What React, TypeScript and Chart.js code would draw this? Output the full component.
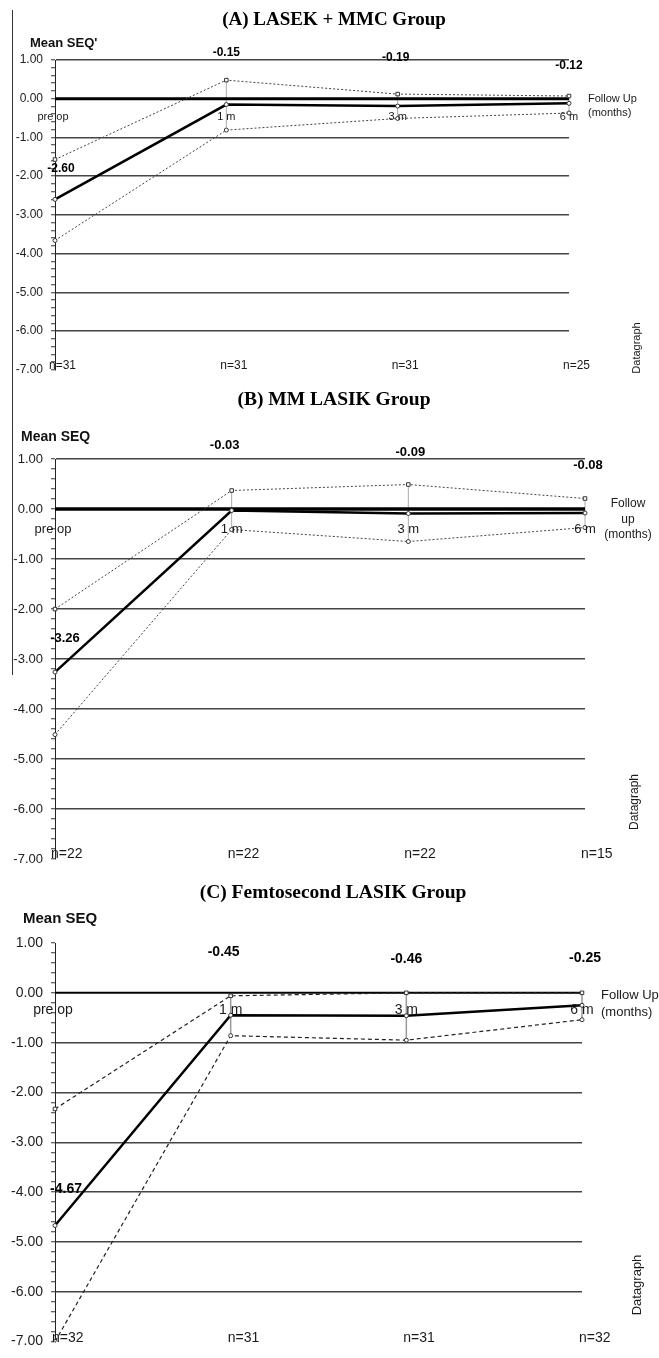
import React, { useEffect, useRef } from 'react';
import { Chart, registerables } from 'chart.js';

Chart.register(...registerables);

// ---------- data ----------
const categories = ['pre op', '1 m', '3 m', '6 m'];
const zeroLine = [0, 0, 0, 0];

const meanA = [-2.6, -0.15, -0.19, -0.12];
const upperA = [-1.57, 0.48, 0.12, 0.07];
const lowerA = [-3.66, -0.81, -0.51, -0.37];
const nA = ['n=31', 'n=31', 'n=31', 'n=25'];

const meanB = [-3.26, -0.03, -0.09, -0.08];
const upperB = [-2.0, 0.37, 0.49, 0.21];
const lowerB = [-4.51, -0.41, -0.65, -0.37];
const nB = ['n=22', 'n=22', 'n=22', 'n=15'];

const meanC = [-4.67, -0.45, -0.46, -0.25];
const upperC = [-2.33, -0.06, 0.0, 0.0];
const lowerC = [-7.0, -0.86, -0.95, -0.54];
const nC = ['n=32', 'n=31', 'n=31', 'n=32'];

const yMin = -7;
const yMax = 1;

type Panel = {
  top: number; height: number; areaTop: number; areaBottom: number; right: number;
  title: string; titleX: number; titleY: number; titleSize: number;
  axisTitle: string; axisTitleX: number; axisTitleY: number; axisTitleSize: number;
  mean: number[]; upper: number[]; lower: number[]; n: string[];
  tickSize: number; catSize: number; catDy: number;
  labelSize: number; labelDx: number[]; labelDy: number[];
  nSize: number; nY: number; nDx: number;
  follow: string[]; followX: number; followY: number[]; followAlign: CanvasTextAlign; followSize: number;
  dgX: number; dgY: number; dgSize: number;
  zeroWidth: number; meanWidth: number; dash: number[]; bandColor: string; bandWidth: number;
  dropColor: string; dropWidth: number; topGrid: boolean;
};

const SANS = '"Liberation Sans", Arial, sans-serif';
const SERIF = '"Liberation Serif", "Times New Roman", serif';

const panels: Panel[] = [
  {
    top: 0, height: 385, areaTop: 60, areaBottom: 377, right: 569,
    title: '(A) LASEK + MMC Group', titleX: 334, titleY: 20, titleSize: 19,
    axisTitle: "Mean SEQ'", axisTitleX: 30, axisTitleY: 43, axisTitleSize: 13,
    mean: meanA, upper: upperA, lower: lowerA, n: nA,
    tickSize: 12, catSize: 11, catDy: 18,
    labelSize: 12, labelDx: [6, 0, -2, 0], labelDy: [-31, -52, -48, -38],
    nSize: 12, nY: 366, nDx: -6,
    follow: ['Follow Up', '(months)'], followX: 588, followY: [99, 113], followAlign: 'left', followSize: 11,
    dgX: 637, dgY: 348, dgSize: 11,
    zeroWidth: 3, meanWidth: 2.5, dash: [2, 2], bandColor: '#444', bandWidth: 1,
    dropColor: '#aaa', dropWidth: 1, topGrid: true,
  },
  {
    top: 385, height: 490, areaTop: 459, areaBottom: 867, right: 585,
    title: '(B) MM LASIK Group', titleX: 334, titleY: 400, titleSize: 19.5,
    axisTitle: 'Mean SEQ', axisTitleX: 21, axisTitleY: 437, axisTitleSize: 14,
    mean: meanB, upper: upperB, lower: lowerB, n: nB,
    tickSize: 13, catSize: 13, catDy: 20,
    labelSize: 13, labelDx: [10, -7, 2, 3], labelDy: [-34, -65, -61, -48],
    nSize: 14, nY: 854, nDx: -4,
    follow: ['Follow', 'up', '(months)'], followX: 628, followY: [504, 520, 535], followAlign: 'center', followSize: 12,
    dgX: 635, dgY: 802, dgSize: 12,
    zeroWidth: 3.5, meanWidth: 2.5, dash: [2, 2], bandColor: '#444', bandWidth: 1,
    dropColor: '#aaa', dropWidth: 1, topGrid: true,
  },
  {
    top: 875, height: 483, areaTop: 943, areaBottom: 1352, right: 582,
    title: '(C) Femtosecond LASIK Group', titleX: 333, titleY: 893, titleSize: 19.5,
    axisTitle: 'Mean SEQ', axisTitleX: 23, axisTitleY: 919, axisTitleSize: 15,
    mean: meanC, upper: upperC, lower: lowerC, n: nC,
    tickSize: 14, catSize: 14, catDy: 17,
    labelSize: 14, labelDx: [11, -7, 0, 3], labelDy: [-36, -63, -57, -47],
    nSize: 14, nY: 1338, nDx: -3,
    follow: ['Follow Up', '(months)'], followX: 601, followY: [995, 1012], followAlign: 'left', followSize: 13,
    dgX: 637, dgY: 1285, dgSize: 13,
    zeroWidth: 2, meanWidth: 2.5, dash: [4, 3], bandColor: '#222', bandWidth: 1.2,
    dropColor: '#999', dropWidth: 1.5, topGrid: false,
  },
];

const isInt = (v: number) => Math.abs(v - Math.round(v)) < 1e-6;

function makeDecor(p: Panel) {
  return {
    id: 'decor',
    beforeDatasetsDraw(chart: any) {
      const ctx = chart.ctx as CanvasRenderingContext2D;
      const x = chart.scales.x;
      const y = chart.scales.y;
      ctx.save();
      ctx.strokeStyle = p.dropColor;
      ctx.lineWidth = p.dropWidth;
      for (let i = 1; i < categories.length; i++) {
        const px = x.getPixelForValue(i);
        ctx.beginPath();
        ctx.moveTo(px, y.getPixelForValue(p.upper[i]));
        ctx.lineTo(px, y.getPixelForValue(p.lower[i]));
        ctx.stroke();
      }
      ctx.restore();
    },
    afterDraw(chart: any) {
      const ctx = chart.ctx as CanvasRenderingContext2D;
      const x = chart.scales.x;
      const y = chart.scales.y;
      const off = p.top;
      ctx.save();
      ctx.textBaseline = 'middle';
      // title
      ctx.fillStyle = '#000';
      ctx.font = `bold ${p.titleSize}px ${SERIF}`;
      ctx.textAlign = 'center';
      ctx.fillText(p.title, p.titleX, p.titleY - off);
      // axis title
      ctx.fillStyle = '#111';
      ctx.font = `bold ${p.axisTitleSize}px ${SANS}`;
      ctx.textAlign = 'left';
      ctx.fillText(p.axisTitle, p.axisTitleX, p.axisTitleY - off);
      // category labels below zero line
      const zeroY = y.getPixelForValue(0);
      ctx.fillStyle = '#1a1a1a';
      ctx.font = `${p.catSize}px ${SANS}`;
      ctx.textAlign = 'center';
      categories.forEach((c, i) => {
        const px = x.getPixelForValue(i) + (i === 0 ? -2 : 0);
        ctx.fillText(c, px, zeroY + p.catDy);
      });
      // mean value labels
      ctx.fillStyle = '#000';
      ctx.font = `bold ${p.labelSize}px ${SANS}`;
      p.mean.forEach((v, i) => {
        const px = x.getPixelForValue(i) + p.labelDx[i];
        const py = y.getPixelForValue(v) + p.labelDy[i];
        ctx.fillText(v.toFixed(2), px, py);
      });
      // n labels
      ctx.fillStyle = '#1a1a1a';
      ctx.font = `${p.nSize}px ${SANS}`;
      ctx.textAlign = 'left';
      p.n.forEach((t, i) => {
        const px = x.getPixelForValue(i) + p.nDx;
        ctx.fillText(t, px, p.nY - off);
      });
      // follow up label
      ctx.font = `${p.followSize}px ${SANS}`;
      ctx.textAlign = p.followAlign;
      p.follow.forEach((t, i) => ctx.fillText(t, p.followX, p.followY[i] - off));
      // Datagraph
      ctx.translate(p.dgX, p.dgY - off);
      ctx.rotate(-Math.PI / 2);
      ctx.textAlign = 'center';
      ctx.font = `${p.dgSize}px ${SANS}`;
      ctx.fillText('Datagraph', 0, 0);
      ctx.restore();
    },
  };
}

function PanelChart({ p }: { p: Panel }) {
  const ref = useRef<HTMLCanvasElement | null>(null);
  useEffect(() => {
    if (!ref.current) return;
    const chart = new Chart(ref.current, {
      type: 'line',
      data: {
        labels: categories,
        datasets: [
          {
            label: 'Mean', data: p.mean, borderColor: '#000', borderWidth: p.meanWidth,
            pointRadius: 2, pointBackgroundColor: '#fff', pointBorderColor: '#333', pointBorderWidth: 1, tension: 0,
          },
          {
            label: 'Upper', data: p.upper, borderColor: p.bandColor, borderWidth: p.bandWidth, borderDash: p.dash,
            pointStyle: 'rect', pointRadius: 2.5, pointBackgroundColor: '#fff', pointBorderColor: '#333', pointBorderWidth: 1,
          },
          {
            label: 'Lower', data: p.lower, borderColor: p.bandColor, borderWidth: p.bandWidth, borderDash: p.dash,
            pointStyle: 'circle', pointRadius: 2, pointBackgroundColor: '#fff', pointBorderColor: '#333', pointBorderWidth: 1,
          },
          {
            label: 'Zero', data: zeroLine, borderColor: '#000', borderWidth: p.zeroWidth, pointRadius: 0,
          },
        ],
      },
      options: {
        animation: false,
        responsive: false,
        maintainAspectRatio: false,
        events: [],
        layout: {
          padding: { left: 0, right: 659 - p.right, top: p.areaTop - p.top, bottom: p.top + p.height - p.areaBottom },
        },
        plugins: { legend: { display: false }, tooltip: { enabled: false }, title: { display: false } },
        scales: {
          x: { display: false },
          y: {
            min: yMin,
            max: yMax,
            afterFit: (s: any) => { s.width = 55; },
            border: { display: true, color: '#222', width: 1 },
            grid: {
              color: (c: any) => {
                const v = c.tick ? c.tick.value : 0;
                if (!isInt(v)) return 'rgba(0,0,0,0)';
                const r = Math.round(v);
                if (r === yMin || r === 0) return 'rgba(0,0,0,0)';
                if (r === yMax && !p.topGrid) return 'rgba(0,0,0,0)';
                return '#444';
              },
              lineWidth: 1.5,
              drawTicks: true,
              tickLength: 4,
              tickColor: '#333',
              tickWidth: 1,
            },
            ticks: {
              stepSize: 0.2,
              autoSkip: false,
              padding: 8,
              color: '#222',
              font: { family: SANS, size: p.tickSize },
              callback: (v: any) => (isInt(Number(v)) ? Math.round(Number(v)).toFixed(2) : ''),
            },
          },
        },
      },
      plugins: [makeDecor(p)],
    } as any);
    return () => chart.destroy();
  }, [p]);
  return (
    <canvas
      ref={ref}
      width={659}
      height={p.height}
      style={{ position: 'absolute', left: 0, top: p.top, width: 659, height: p.height, display: 'block' }}
    />
  );
}

export default function App() {
  return (
    <div style={{ position: 'absolute', left: 0, top: 0, width: 659, height: 1358, background: '#fff', overflow: 'hidden' }}>
      {panels.map((p, i) => (
        <PanelChart key={i} p={p} />
      ))}
      <div style={{ position: 'absolute', left: 12, top: 10, width: 1, height: 665, background: '#333' }} />
    </div>
  );
}
